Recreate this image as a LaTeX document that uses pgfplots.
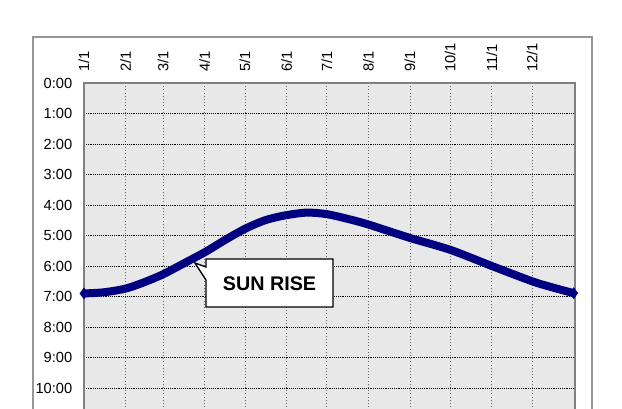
\documentclass[border=0pt]{standalone}
\usepackage{pgfplots}
\pgfplotsset{compat=1.18}
\usepackage{pgfplotstable}
\usepackage{fontspec}
\setmainfont{Liberation Sans}

\definecolor{sunblue}{RGB}{0,0,128}
\definecolor{plotbg}{RGB}{232,232,232}
\definecolor{framegray}{RGB}{150,150,150}

% day of year, sunrise time in hours
\pgfplotstableread{
day hour
0   6.90
15  6.86
31  6.74
45  6.53
59  6.27
75  5.90
90  5.55
105 5.15
120 4.78
135 4.50
150 4.34
166 4.25
181 4.30
197 4.46
212 4.64
243 5.08
273 5.47
304 6.00
334 6.50
349 6.70
365 6.89
}\sunrise

\begin{document}
\begin{tikzpicture}
% outer chart frame (image pixel coordinates, origin top left)
\begin{scope}[shift={(-63pt,62.25pt)},x=0.75pt,y=-0.75pt]
  \draw[framegray, line width=0.8pt, fill=white] (33,37) rectangle (592,470);
\end{scope}
\begin{axis}[
    at={(0,0)}, anchor=north west,
    scale only axis, width=368.25pt, height=274.5pt,
    xmin=0, xmax=366, ymin=0, ymax=12, y dir=reverse,
    clip=false,
    axis background/.style={fill=plotbg},
    axis line style={draw=gray, line width=1.2pt},
    major tick length=0pt,
    xtick={0,31,59,90,120,151,181,212,243,273,304,334},
    xticklabels={1/1,2/1,3/1,4/1,5/1,6/1,7/1,8/1,9/1,10/1,11/1,12/1},
    xticklabel pos=right,
    xticklabel style={rotate=90, anchor=west, inner sep=8.2pt, font=\fontsize{11}{12}\selectfont},
    ytick={0,1,2,3,4,5,6,7,8,9,10},
    yticklabels={0:00,1:00,2:00,3:00,4:00,5:00,6:00,7:00,8:00,9:00,10:00},
    yticklabel style={anchor=east, inner xsep=8.6pt, inner ysep=0pt, font=\fontsize{11}{12}\selectfont},
    extra y ticks={11}, extra y tick labels={},
    xmajorgrids, ymajorgrids,
    x grid style={black!60, dotted, line width=0.6pt},
    y grid style={black, densely dotted, line width=0.6pt},
]
\addplot[sunblue, line width=6pt, smooth, mark=diamond*, mark indices={1,21},
    mark size=4pt, mark options={line width=0.5pt}] table[x=day, y=hour] {\sunrise};
\end{axis}
\begin{scope}[shift={(-63pt,62.25pt)},x=0.75pt,y=-0.75pt]
  \draw[black, line width=1pt, fill=white, line join=miter]
    (206,259) -- (333,259) -- (333,307) -- (206,307) -- (206,280) -- (195,263) -- (206,267) -- cycle;
  \node[font=\bfseries\fontsize{14.8}{16}\selectfont] at (269.5,284) {SUN RISE};
  \pgfresetboundingbox
  \path[use as bounding box] (0,0) rectangle (622,408);
\end{scope}
\end{tikzpicture}
\end{document}
